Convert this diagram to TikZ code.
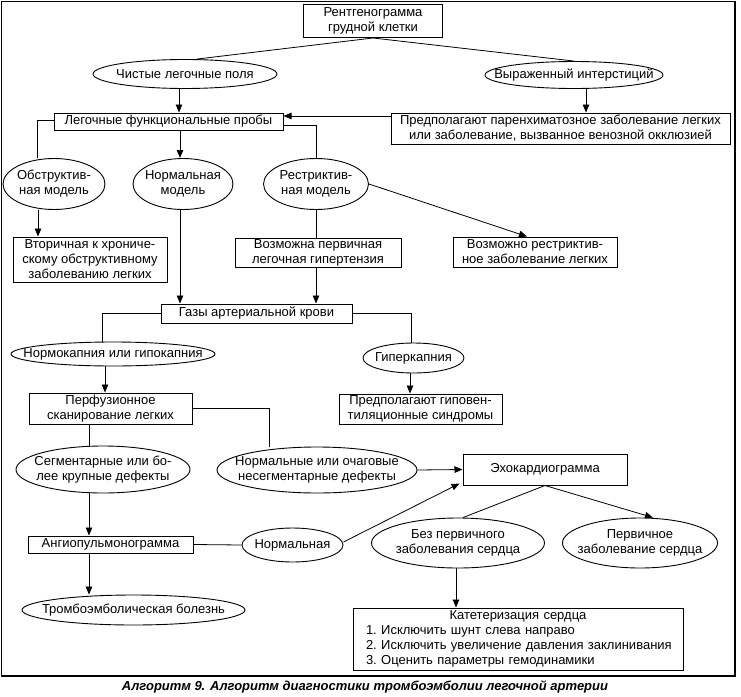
\documentclass[tikz,border=0pt]{standalone}
\usepackage{fontspec}
\setmainfont{Liberation Sans}
\usetikzlibrary{shapes.geometric,arrows.meta,backgrounds}
\newcommand\fs{\fontsize{13}{15}\selectfont\frenchspacing}
\begin{document}
\begin{tikzpicture}[x=1pt,y=-1pt,
  every node/.style={font=\fs},
  box/.style={draw, line width=1pt, fill=white, inner sep=0pt, align=center},
  oval/.style={ellipse, draw, line width=0.9pt, fill=white, inner sep=-160pt, align=center},
  ln/.style={line width=0.8pt},
  arr/.style={ln, -{Triangle[length=8pt,width=6.5pt]}}]
\useasboundingbox (0,0) rectangle (741,696);
% column / row helper coordinates
\coordinate (x37) at (37,0);
\coordinate (x38) at (38,0);
\coordinate (x89) at (89,0);
\coordinate (x102) at (102,0);
\coordinate (x105) at (105,0);
\coordinate (x179) at (179,0);
\coordinate (x180) at (180,0);
\coordinate (x269) at (269,0);
\coordinate (x410) at (410,0);
\coordinate (x411) at (411,0);
\coordinate (x456) at (456,0);
\coordinate (x586) at (586,0);
\coordinate (y116) at (0,116);
\coordinate (y120) at (0,120);
\coordinate (y125) at (0,125);

\node[box, minimum width=139, minimum height=33] (r1) at (373,21) {Рентгенограмма\\грудной клетки};
\node[oval, minimum width=184, minimum height=29] (clear) at (185,74) {Чистые легочные поля};
\node[oval, minimum width=178, minimum height=27] (inter) at (574,75) {Выраженный интерстиций};
\node[box, minimum width=229, minimum height=17] (lfp) at (168.5,121.5) {Легочные функциональные пробы};
\node[box, minimum width=339, minimum height=31] (pp) at (560.5,128.5) {Предполагают паренхиматозное заболевание легких\\или заболевание, вызванное венозной окклюзией};
\node[oval, minimum width=102, minimum height=51] (obs) at (54,184) {Обструктив-\\ная модель};
\node[oval, minimum width=100, minimum height=51] (norm) at (183,184) {Нормальная\\модель};
\node[oval, minimum width=105, minimum height=51] (restr) at (316,184) {Рестриктив-\\ная модель};
\node[box, minimum width=154, minimum height=45] (sec) at (90,259.5) {Вторичная к хрониче-\\скому обструктивному\\заболеванию легких};
\node[box, minimum width=166, minimum height=29] (pph) at (318,252.5) {Возможна первичная\\легочная гипертензия};
\node[box, minimum width=164, minimum height=30] (prs) at (535,252) {Возможно рестриктив-\\ное заболевание легких};
\node[box, minimum width=191, minimum height=19] (gas) at (256.5,313.5) {Газы артериальной крови};
\node[oval, minimum width=204, minimum height=24] (normo) at (113,354) {Нормокапния или гипокапния};
\node[oval, minimum width=101, minimum height=30] (hyper) at (413.5,358) {Гиперкапния};
\node[box, minimum width=163, minimum height=30] (hyp) at (420.5,409) {Предполагают гиповен-\\тиляционные синдромы};
\node[box, minimum width=163, minimum height=31] (perf) at (110.5,408.5) {Перфузионное\\сканирование легких};
\node[oval, minimum width=174, minimum height=47] (seg) at (103,469.5) {Сегментарные или бо-\\лее крупные дефекты};
\node[oval, minimum width=200, minimum height=46] (nod) at (317,470) {Нормальные или очаговые\\несегментарные дефекты};
\node[box, minimum width=164, minimum height=31] (echo) at (545,469.5) {Эхокардиограмма};
\node[box, minimum width=165, minimum height=17] (angio) at (110.5,544.5) {Ангиопульмонограмма};
\node[oval, minimum width=101, minimum height=34] (normal) at (292.5,545) {Нормальная};
\node[oval, minimum width=173, minimum height=50] (nopri) at (458,543) {Без первичного\\заболевания сердца};
\node[oval, minimum width=155, minimum height=50] (pri) at (640,543) {Первичное\\заболевание сердца};
\node[box, minimum width=330, minimum height=62, text width=304, align=left] (cath) at (518,639)
  {\makebox[304pt]{Катетеризация сердца}\\\mbox{1. Исключить шунт слева направо}\\\mbox{2. Исключить увеличение давления заклинивания}\\\mbox{3. Оценить параметры гемодинамики}};
\node[oval, minimum width=223, minimum height=30] (thr) at (133.5,610) {Тромбоэмболическая болезнь};

\node[font=\bfseries\itshape\fontsize{13}{15}\selectfont] (cap) at (365,687) {Алгоритм 9. Алгоритм диагностики тромбоэмболии легочной артерии};

\begin{pgfonlayer}{background}
\draw[ln] (r1.south) -- ([xshift=12pt]clear.north);
\draw[ln] (r1.south) -- (inter.north);
\draw[arr] (clear.south -| x179) -- (lfp.north -| x179);
\draw[arr] (inter.south -| x586) -- (pp.north -| x586);
\draw[arr] (pp.west |- y116) -- (lfp.east |- y116);
\draw[ln] (lfp.west |- y120) -| (obs.north -| x37);
\draw[arr] (lfp.south -| x180) -- (norm.north -| x180);
\draw[ln] (lfp.east |- y125) -| (restr.north);
\draw[arr] (obs.south -| x38) -- (sec.north -| x38);
\draw[arr] (norm.south -| x180) -- (gas.north -| x180);
\draw[ln] (restr.south) -- (restr.south |- pph.north);
\draw[arr] (restr.south |- pph.south) -- (restr.south |- gas.north);
\draw[arr] (restr.east) -- ([xshift=-8pt]prs.north);
\draw[ln] (gas.west) -| (normo.north -| x102);
\draw[ln] (gas.east) -| (hyper.north -| x411);
\draw[arr] (normo.south -| x105) -- (perf.north -| x105);
\draw[arr] (hyper.south -| x410) -- (hyp.north -| x410);
\draw[ln] (perf.south -| x89) -- (seg.north -| x89);
\draw[ln] (perf.east) -| (nod.north -| x269);
\draw[arr] (nod.east) -- (echo.west);
\draw[arr] (seg.south -| x89) -- (angio.north -| x89);
\draw[ln] (angio.east) -- (normal.west);
\draw[arr] ([yshift=3pt]normal.east) -- ([xshift=-3pt,yshift=2pt]echo.south west);
\draw[ln] (echo.south) -- ([xshift=5pt]nopri.north);
\draw[arr] (echo.south) -- ([xshift=13pt]pri.north);
\draw[arr] (nopri.south -| x456) -- (cath.north -| x456);
\draw[arr] (angio.south -| x89) -- (thr.north -| x89);
\end{pgfonlayer}

\draw[line width=1.2pt] (1.5,1.5) rectangle (735,676);
\end{tikzpicture}
\end{document}
